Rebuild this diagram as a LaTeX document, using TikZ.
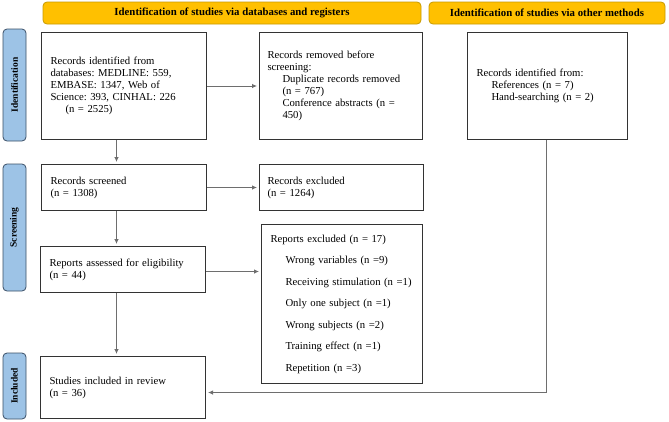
\documentclass[tikz,border=0pt]{standalone}
\usepackage{fontspec}
\setmainfont{Liberation Serif}
\usetikzlibrary{arrows.meta,calc}
\definecolor{bannerfill}{HTML}{FFC000}
\definecolor{bannerdraw}{HTML}{C79A00}
\definecolor{sidefill}{HTML}{9DC3E6}
\definecolor{sidedraw}{HTML}{3A4F66}
\definecolor{linegray}{HTML}{6E6E6E}
\frenchspacing
\begin{document}
\begin{tikzpicture}[x=1pt,y=-1pt,
  box/.style={draw=black!80, line width=1pt, anchor=north west, inner xsep=9pt, inner ysep=0pt,
    align=left, font=\fontsize{10.7}{12}\selectfont},
  banner/.style={draw=bannerdraw, fill=bannerfill, line width=0.8pt, rounded corners=4pt,
    minimum height=22pt, inner sep=0pt, font=\bfseries\fontsize{10.8}{12}\selectfont},
  side/.style={draw=sidedraw, fill=sidefill, line width=0.8pt, rounded corners=4pt, rotate=90,
    minimum height=23pt, inner sep=0pt, font=\bfseries\fontsize{9.5}{11}\selectfont},
  arr/.style={draw=linegray, line width=0.8pt, -{Latex[length=5pt,width=4.5pt]}, shorten >=2pt},
]
\useasboundingbox (0,0) rectangle (669,421);

% banners
\node[banner, minimum width=378pt] (b1) at (232,13) {Identification of studies via databases and registers};
\node[banner, minimum width=236pt] (b2) at (547,13) {Identification of studies via other methods};

% side labels
\node[side, minimum width=112pt] (sid) at (14.5,85) {Identification};
\node[side, minimum width=127pt] (ssc) at (14.5,227.5) {Screening};
\node[side, minimum width=66pt] (sin) at (14.5,386) {Included};

% boxes
\node[box, minimum width=165pt, minimum height=107pt, text width=147pt] (id) at (41,32)
  {Records identified from\\databases: MEDLINE: 559,\\EMBASE: 1347, Web of\\Science: 393, CINHAL: 226\\\hspace*{15pt}(n = 2525)};
\node[box, minimum width=163pt, minimum height=107pt, text width=147pt, inner xsep=8pt] (rm) at (259,32)
  {Records removed before\\screening:\\\hspace*{15pt}Duplicate records removed\\\hspace*{15pt}(n = 767)\\\hspace*{15pt}Conference abstracts (n =\\\hspace*{15pt}450)};
\node[box, minimum width=160pt, minimum height=107pt, text width=142pt] (oth) at (467,32)
  {Records identified from:\\\hspace*{15pt}References (n = 7)\\\hspace*{15pt}Hand-searching (n = 2)\\[6pt]};
\node[box, minimum width=165pt, minimum height=46pt, text width=147pt] (scr) at (41,164)
  {Records screened\\(n = 1308)};
\node[box, minimum width=164pt, minimum height=46pt, text width=148pt, inner xsep=8pt] (exc) at (259,164)
  {Records excluded\\(n = 1264)};
\node[box, minimum width=165pt, minimum height=46pt, text width=147pt] (ass) at (40,246)
  {Reports assessed for eligibility\\(n = 44)\\[-4pt]};
\node[box, minimum width=161pt, minimum height=159pt, text width=143pt] (rex) at (261,224)
  {Reports excluded (n = 17)\\[9.5pt]
   \hspace*{15pt}Wrong variables (n =9)\\[9.5pt]
   \hspace*{15pt}Receiving stimulation (n =1)\\[9.5pt]
   \hspace*{15pt}Only one subject (n =1)\\[9.5pt]
   \hspace*{15pt}Wrong subjects (n =2)\\[9.5pt]
   \hspace*{15pt}Training effect (n =1)\\[9.5pt]
   \hspace*{15pt}Repetition (n =3)};
\node[box, minimum width=165pt, minimum height=62pt, text width=147pt] (inc) at (40,356)
  {Studies included in review\\(n = 36)\\[10pt]};

% connectors
\draw[arr] (id) -- (rm);
\draw[arr] ([xshift=-7.5pt]id.south) -- ([xshift=-7.5pt]scr.north);
\draw[arr] (scr) -- (exc);
\draw[arr] ([xshift=-7.5pt]scr.south) -- ([xshift=-6.5pt]ass.north);
\draw[arr] ([yshift=-2pt]ass.east) -- ([yshift=-2pt]ass.east -| rex.west);
\draw[arr] ([xshift=-6.5pt]ass.south) -- ([xshift=-6.5pt]inc.north);
\draw[arr] ([xshift=-1pt]oth.south) |- ([yshift=-5pt]inc.east);
\end{tikzpicture}
\end{document}
